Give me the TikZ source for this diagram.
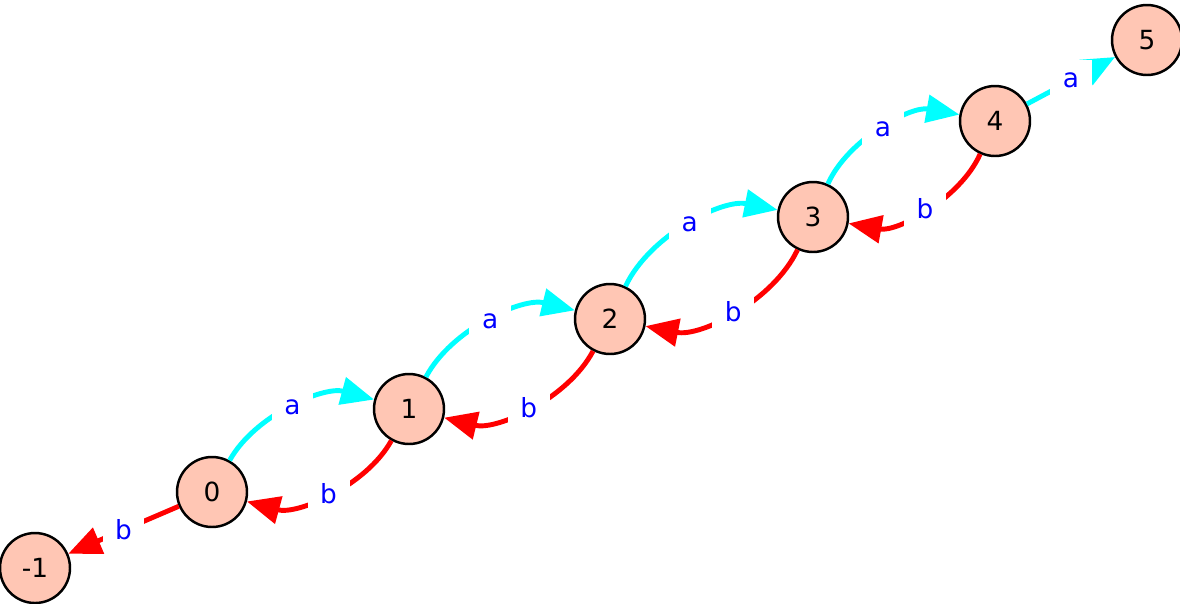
\documentclass[tikz,border=0pt]{standalone}
\usepackage{fontspec}
\setmainfont{DejaVu Sans}
\usetikzlibrary{arrows.meta}
\definecolor{nodesalmon}{HTML}{FFC6B4}
\definecolor{acyan}{HTML}{00FFFF}
\definecolor{bred}{HTML}{FF0000}
\definecolor{labelblue}{HTML}{0000FF}
\tikzset{
    statenode/.style={circle, draw=black, line width=1.4pt, fill=nodesalmon, minimum size=1.4cm, inner sep=0pt, font=\fontsize{15}{18}\selectfont},
    aedge/.style={draw=acyan, line width=2.8pt, -{Triangle[length=0.66cm, width=0.55cm]}},
    bedge/.style={draw=bred, line width=2.8pt, -{Triangle[length=0.66cm, width=0.55cm]}},
    edgelabel/.style={fill=white, text=labelblue, inner sep=0pt, minimum size=0.84cm, font=\fontsize{15}{18}\selectfont}
}
\begin{document}
\begin{tikzpicture}[x=0.02cm, y=-0.02cm]
    \useasboundingbox (0,0) rectangle (1180,603);
    % states along the diagonal
    \foreach \nm/\x/\y/\lab in {sm1/35/568/-1, s0/212/492/0, s1/409/409/1, s2/610/319/2, s3/813/217/3, s4/995/121/4, s5/1147/40/5}
        \node[statenode] (\nm) at (\x,\y) {\lab};
    % a goes up, b goes down
    \foreach \i/\j in {0/1,1/2,2/3,3/4} {
        \draw[aedge] (s\i) to[bend left=38, looseness=0.85] node[edgelabel] {a} (s\j);
        \draw[bedge] (s\j) to[bend left=38, looseness=0.85] node[edgelabel] {b} (s\i);
    }
    \draw[aedge] (s4) -- node[edgelabel] {a} (s5);
    \draw[bedge] (s0) -- node[edgelabel] {b} (sm1);
\end{tikzpicture}
\end{document}
